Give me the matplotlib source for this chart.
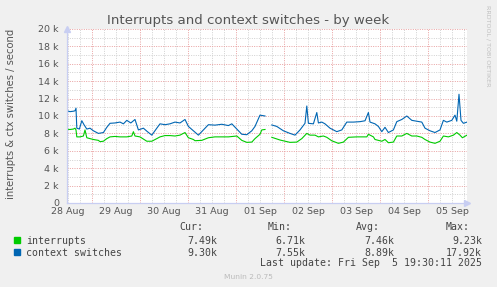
import numpy as np
import matplotlib
matplotlib.use("Agg")
import matplotlib.pyplot as plt
from matplotlib.ticker import FixedLocator

# ---- data (hours since 28 Aug 00:00, values in thousands per second) ----
ctx_hours = [11.5, 13, 14.7, 15.5, 16, 16.4, 17.7, 18.9, 20, 21.4, 23, 24.7, 27.2, 29.7,
             31.4, 33, 35.5, 38, 39.7, 41.4, 43.4, 45.5, 47.2, 49.7, 51.7, 53.9, 56.4, 58,
             60.5, 63, 65.5, 68, 70.5, 72.2, 74.7, 77.2, 79.7, 82.2, 85.5, 88.9, 92.2, 93.9,
             96.4, 98.9, 101.4, 103.9, 105.5, 108, 110.5, 112, 113.9, 116.4, 119.7, 123,
             125.5, 128, 130.5, 131.4, 132.2, 134.7, 136.4, 137.2, 138.9, 140.5, 143, 146.4,
             148.9, 151.4, 154.7, 158, 160.5, 162.2, 163, 165.5, 167.2, 168.9, 170.5, 172.2,
             174.7, 176.4, 178.9, 181.4, 183.9, 186.4, 188.9, 190.5, 193, 195.5, 198, 199.7,
             201.4, 203.9, 205.5, 206.4, 207.5, 208.5, 209.7, 211.5]
ctx_k = [10.6, 10.5, 10.55, 10.6, 10.9, 8.6, 8.5, 9.46, 9.0, 8.5, 8.6, 8.3, 8.0, 8.1,
         8.7, 9.16, 9.2, 9.3, 9.1, 9.5, 9.2, 9.6, 8.4, 8.6, 8.2, 7.8, 8.6, 9.1,
         9.0, 9.1, 9.3, 9.2, 9.6, 8.8, 8.3, 7.8, 8.4, 9.0, 8.95, 9.05, 8.9, 9.1,
         8.5, 7.9, 7.85, 8.3, 8.8, 10.1, 10.0, np.nan, 8.97, 8.8, 8.3, 8.0,
         7.8, 8.4, 9.16, 11.15, 9.16, 9.1, 10.4, 9.2, 9.3, 9.1, 8.6, 8.2,
         8.4, 9.3, 9.3, 9.35, 9.45, 10.4, 9.3, 9.1, 8.8, 8.2, 8.7, 8.1,
         8.4, 9.35, 9.6, 10.0, 9.5, 9.4, 9.3, 8.6, 8.3, 8.1, 8.4, 9.5,
         9.3, 9.5, 10.1, 9.4, 12.5, 9.5, 9.16, 9.3]

irq_hours = [11.5, 13, 14.7, 15.5, 16, 16.4, 18, 19.7, 20.5, 21.4, 23, 24.7, 27.2, 28,
             29.7, 31.4, 33, 35.5, 38, 41.4, 43.9, 44.7, 45.5, 48, 51.4, 53.9, 56.4, 58,
             60.5, 63, 65.5, 68, 70.5, 72.2, 74.7, 75.5, 78.9, 82.2, 85.5, 88.9, 92.2, 96.4,
             98.9, 101.4, 103.9, 105.5, 108, 108.9, 110.5, 112, 113.9, 118, 123, 126.4,
             128.9, 131.4, 133, 135.5, 137.2, 139.7, 141.4, 143.9, 147.2, 149.7, 152.2,
             156.4, 161.4, 162.2, 164.7, 165.5, 168.9, 170.5, 172.2, 174.7, 176.4, 178.9,
             181.4, 183.9, 186.4, 188.9, 190.5, 193, 195.5, 198, 199.7, 202.2, 204.7, 206.4,
             208, 209.2, 211.5]
irq_k = [8.47, 8.45, 8.5, 8.6, 8.4, 7.6, 7.6, 7.7, 8.4, 7.5, 7.4, 7.3, 7.2, 7.05,
         7.1, 7.4, 7.6, 7.65, 7.6, 7.6, 7.7, 8.2, 7.7, 7.6, 7.1, 7.1, 7.4, 7.6,
         7.75, 7.75, 7.7, 7.8, 8.1, 7.5, 7.3, 7.16, 7.2, 7.5, 7.6, 7.6, 7.6, 7.7,
         7.2, 6.97, 7.0, 7.4, 7.9, 8.4, 8.45, np.nan, 7.55, 7.24, 6.97, 7.0,
         7.4, 8.0, 7.8, 7.8, 7.6, 7.7, 7.55, 7.15, 6.86, 7.0, 7.55,
         7.6, 7.6, 7.9, 7.6, 7.3, 7.1, 7.3, 6.93, 7.0, 7.7, 7.7,
         8.0, 7.7, 7.7, 7.55, 7.3, 7.0, 6.86, 7.1, 7.7, 7.6, 7.8, 8.1,
         7.8, 7.5, 7.8]

day_labels = ["28 Aug", "29 Aug", "30 Aug", "31 Aug", "01 Sep", "02 Sep",
              "03 Sep", "04 Sep", "05 Sep"]
y_labels = ["0", "2 k", "4 k", "6 k", "8 k", "10 k", "12 k", "14 k", "16 k", "18 k", "20 k"]

legend_names = ["interrupts", "context switches"]
cur_vals = ["7.49k", "9.30k"]
min_vals = ["6.71k", "7.55k"]
avg_vals = ["7.46k", "8.89k"]
max_vals = ["9.23k", "17.92k"]

# ---- figure ----
W, H = 497, 287
fig = plt.figure(figsize=(W / 100, H / 100), dpi=100)
fig.patch.set_facecolor("#F0F0F0")

def px(x, y):
    return x / W, 1 - y / H

L, R, T, B = 67, 467, 29, 203
ax = fig.add_axes([L / W, 1 - B / H, (R - L) / W, (B - T) / H])
ax.set_facecolor("white")

GREEN = "#00CC00"
BLUE = "#0066B3"
FONTC = "#555555"
AXISC = "#C8CEF2"

ax.set_xlim(11.5, 211.5)
ax.set_ylim(0, 20)

ax.xaxis.set_major_locator(FixedLocator([12 + 24 * i for i in range(len(day_labels))]))
ax.set_xticklabels(day_labels)
ax.yaxis.set_major_locator(FixedLocator([2 * i for i in range(len(y_labels))]))
ax.set_yticklabels(y_labels)

ax.grid(False)
for h in np.arange(12, 212, 6):
    major = (h % 24 == 0)
    ax.axvline(h, color="#E8A0A0" if major else "#D0D0D0", lw=0.7,
               ls=(0, (1, 1.4)), zorder=1)
for v in range(1, 21):
    major = (v % 2 == 0)
    ax.axhline(v, color="#E8A0A0" if major else "#D0D0D0", lw=0.7,
               ls=(0, (1, 1.4)), zorder=1)

ax.plot(irq_hours, irq_k, color=GREEN, lw=0.8, zorder=3)
ax.plot(ctx_hours, ctx_k, color=BLUE, lw=0.8, zorder=4)

ax.tick_params(axis="both", which="both", length=0, colors=FONTC, labelsize=6.8)
ax.tick_params(axis="y", pad=5.8)
ax.tick_params(axis="x", pad=3.0)
for s in ["top", "right"]:
    ax.spines[s].set_visible(False)
for s in ["left", "bottom"]:
    ax.spines[s].set_color(AXISC)
    ax.spines[s].set_linewidth(0.9)
    ax.spines[s].set_zorder(5)

ax.plot([0], [1.0], marker="^", color=AXISC, ms=4.5, transform=ax.transAxes, clip_on=False, zorder=6)
ax.plot([1.0], [0], marker=">", color=AXISC, ms=4.5, transform=ax.transAxes, clip_on=False, zorder=6)

fig.text(*px(248.5, 24), "Interrupts and context switches - by week", ha="center",
         va="baseline", fontsize=9.6, color="#555555")
fig.text(*px(11, 114), "interrupts & ctx switches / second", rotation=90,
         ha="center", va="center", fontsize=7.2, color=FONTC)
fig.text(*px(488, 5), "RRDTOOL / TOBI OETIKER", rotation=270, ha="center", va="top",
         fontsize=4.6, color="#C0C0C0")
fig.text(*px(248, 277), "Munin 2.0.75", ha="center", va="center", fontsize=5.4,
         color="#BBBBBB")

mono = dict(family="DejaVu Sans Mono", fontsize=7.1, color="#444444")
fig.text(*px(203, 230.5), "Cur:", ha="right", va="baseline", **mono)
fig.text(*px(292, 230.5), "Min:", ha="right", va="baseline", **mono)
fig.text(*px(380, 230.5), "Avg:", ha="right", va="baseline", **mono)
fig.text(*px(470, 230.5), "Max:", ha="right", va="baseline", **mono)

colors = [GREEN, BLUE]
for i, name in enumerate(legend_names):
    yb = 243.5 + 12.3 * i
    fig.patches.append(plt.Rectangle(px(14, yb - 0.5), 6 / W, 6 / H,
                                     transform=fig.transFigure, color=colors[i],
                                     figure=fig))
    fig.text(*px(26.5, yb), name, ha="left", va="baseline", **mono)
    fig.text(*px(217, yb), cur_vals[i], ha="right", va="baseline", **mono)
    fig.text(*px(305, yb), min_vals[i], ha="right", va="baseline", **mono)
    fig.text(*px(394, yb), avg_vals[i], ha="right", va="baseline", **mono)
    fig.text(*px(482, yb), max_vals[i], ha="right", va="baseline", **mono)

fig.text(*px(482, 266), "Last update: Fri Sep  5 19:30:11 2025", ha="right",
         va="baseline", **mono)

fig.savefig("out.png", dpi=100, facecolor=fig.get_facecolor())
